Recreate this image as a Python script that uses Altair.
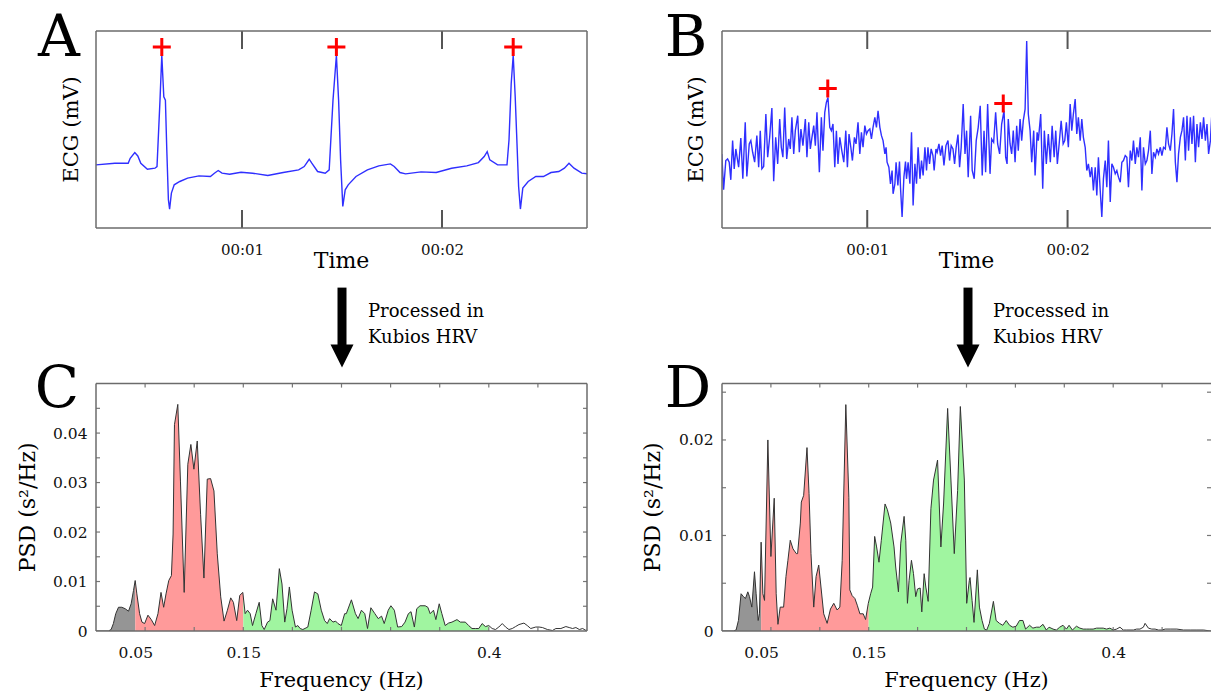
import altair as alt
import numpy as np
import pandas as pd

# ---------------- data ----------------
# Panel A: clean ECG, (time ms, amplitude a.u.)
ecg_a = [(268,190),(364,195),(431,195),(441,210),(464,227),(479,217),(494,195),(527,177),(565,180),(575,185),
         (590,385),(599,520),(609,395),(617,385),(624,235),(632,85),(638,57),(647,105),(661,130),(689,140),
         (728,150),(785,157),(842,155),(862,165),(881,173),(900,165),(938,162),(995,168),(1053,165),(1129,158),
         (1206,167),(1283,175),(1311,185),(1336,207),(1349,195),(1378,170),(1416,165),(1436,175),(1455,385),(1472,520),
         (1483,385),(1493,205),(1504,65),(1516,115),(1531,130),(1570,155),(1627,175),(1684,187),(1742,193),(1761,185),
         (1790,167),(1818,163),(1895,169),(1971,167),(2048,180),(2124,187),(2182,197),(2211,215),(2226,230),(2239,205),
         (2278,190),(2325,190),(2335,265),(2346,435),(2356,520),(2366,395),(2373,285),(2383,125),(2392,57),(2404,120),
         (2431,140),(2469,155),(2507,155),(2545,167),(2584,170),(2612,180),(2635,195),(2660,180),(2699,165),(2727,163)]
ecg_a_peaks = [(599,545),(1472,545),(2356,545)]

# Panel B: noisy ECG, (time ms, amplitude a.u.)
ecg_b = [(274,223),(283,115),(294,203),(303,208),(311,198),(319,145),(328,263),(336,178),(344,238),(353,203),
         (358,183),(369,271),(379,148),(391,318),(399,155),(411,253),(419,263),(428,228),(438,198),(449,278),
         (458,183),(466,293),(474,178),(483,185),(494,343),(503,213),(513,273),(524,361),(533,141),(543,273),
         (553,193),(563,328),(571,243),(579,213),(588,363),(598,208),(608,268),(616,238),(624,333),(633,223),
         (641,293),(653,338),(661,228),(669,298),(679,248),(691,328),(699,213),(708,318),(716,238),(724,273),
         (733,308),(741,248),(749,348),(761,168),(771,333),(779,233),(788,348),(796,378),(804,393),(813,303),
         (821,293),(829,313),(838,183),(846,293),(854,193),(863,273),(873,233),(883,198),(893,293),(901,183),
         (909,283),(918,243),(926,203),(936,273),(944,253),(954,318),(963,223),(971,288),(979,243),(988,308),
         (996,283),(1004,293),(1013,298),(1021,268),(1029,303),(1038,333),(1046,303),(1054,353),(1063,303),(1071,278),
         (1079,263),(1088,223),(1094,243),(1099,198),(1108,183),(1116,133),(1124,173),(1129,103),(1138,133),(1144,198),
         (1153,128),(1161,200),(1166,123),(1174,33),(1183,153),(1191,200),(1196,148),(1204,198),(1213,133),(1221,288),
         (1229,68),(1238,193),(1246,133),(1254,243),(1263,148),(1271,203),(1279,158),(1288,243),(1296,173),(1303,243),
         (1311,193),(1319,238),(1328,218),(1334,173),(1343,238),(1349,228),(1358,253),(1366,218),(1374,248),(1383,188),
         (1393,248),(1403,263),(1411,203),(1419,248),(1428,238),(1436,193),(1444,243),(1453,281),(1461,183),(1469,243),
         (1479,373),(1488,223),(1496,293),(1504,153),(1516,338),(1524,173),(1534,148),(1544,263),(1554,303),(1564,368),
         (1574,158),(1583,293),(1591,168),(1601,373),(1613,163),(1621,268),(1631,258),(1641,348),(1651,253),(1661,223),
         (1671,313),(1683,353),(1691,213),(1698,193),(1704,328),(1713,253),(1721,223),(1729,293),(1738,198),(1746,308),
         (1754,233),(1763,328),(1771,263),(1779,323),(1788,358),(1796,563),(1804,343),(1813,293),(1821,198),(1831,293),
         (1838,158),(1848,288),(1854,263),(1866,343),(1876,118),(1884,293),(1894,193),(1904,283),(1914,198),(1923,308),
         (1933,213),(1941,293),(1949,193),(1958,253),(1968,323),(1978,253),(1986,263),(1994,318),(2004,243),(2013,373),
         (2021,293),(2029,343),(2038,388),(2046,283),(2054,333),(2063,263),(2071,328),(2079,273),(2088,243),(2096,173),
         (2104,193),(2113,153),(2121,183),(2129,113),(2138,183),(2146,98),(2154,213),(2163,113),(2171,33),(2179,148),
         (2188,203),(2196,123),(2204,263),(2213,78),(2221,193),(2229,183),(2238,163),(2246,173),(2254,153),(2263,138),
         (2271,198),(2279,203),(2288,218),(2296,213),(2304,123),(2313,233),(2321,203),(2329,263),(2338,193),(2346,243),
         (2354,213),(2363,273),(2371,113),(2379,243),(2388,193),(2396,203),(2404,233),(2413,293),(2421,163),(2429,228),
         (2438,213),(2446,238),(2454,223),(2463,243),(2471,218),(2479,243),(2488,238),(2496,303),(2504,253),(2513,233),
         (2521,283),(2529,358),(2538,198),(2546,138),(2554,223),(2563,273),(2571,293),(2579,333),(2588,203),(2596,338),
         (2604,233),(2613,333),(2621,253),(2629,338),(2638,198),(2646,313),(2654,243),(2663,318),(2671,268),(2679,333),
         (2688,263),(2696,313),(2704,223),(2713,263),(2721,353),(2726,243)]
ecg_b_peaks = [(803,420),(1679,375)]

# Panel C: PSD (Hz, s^2/Hz)
psd_c = [(0.0,0.0),(0.0126,0.0),(0.0154,0.0003),(0.0177,0.0015),(0.0201,0.0035),(0.0229,0.0048),(0.0263,0.0048),
         (0.0297,0.0045),(0.0331,0.0040),(0.0358,0.0055),(0.0382,0.0082),(0.0399,0.0102),(0.0416,0.0075),(0.0444,0.0035),
         (0.0468,0.0018),(0.0495,0.0015),(0.0529,0.0032),(0.0563,0.0023),(0.0597,0.0011),(0.0631,0.0035),(0.0662,0.0078),
         (0.0689,0.0048),(0.0713,0.0075),(0.0741,0.0102),(0.0768,0.0112),(0.0785,0.0196),(0.0799,0.0417),(0.0833,0.0458),
         (0.0860,0.0303),(0.0898,0.0078),(0.0935,0.0337),(0.0966,0.0377),(0.0997,0.0327),(0.1031,0.0384),(0.1065,0.0236),
         (0.1099,0.0107),(0.1133,0.0307),(0.1167,0.0308),(0.1201,0.0283),(0.1235,0.0156),(0.1270,0.0069),(0.1304,0.0020),
         (0.1338,0.0042),(0.1372,0.0067),(0.1399,0.0058),(0.1433,0.0021),(0.1464,0.0072),(0.1495,0.0078),(0.1519,0.0035),
         (0.1543,0.0042),(0.1570,0.0035),(0.1594,0.0011),(0.1628,0.0035),(0.1662,0.0058),(0.1689,0.0011),(0.1713,0.0003),
         (0.1747,0.0018),(0.1771,0.0021),(0.1799,0.0065),(0.1833,0.0042),(0.1867,0.0126),(0.1894,0.0095),(0.1922,0.0018),
         (0.1945,0.0045),(0.1969,0.0089),(0.1997,0.0042),(0.2031,0.0008),(0.2055,0.0011),(0.2079,0.0005),(0.2106,0.0003),
         (0.2157,0.0008),(0.2191,0.0042),(0.2225,0.0079),(0.2259,0.0075),(0.2294,0.0042),(0.2328,0.0021),(0.2355,0.0015),
         (0.2379,0.0025),(0.2413,0.0018),(0.2440,0.0020),(0.2464,0.0015),(0.2498,0.0011),(0.2532,0.0035),(0.2549,0.0035),
         (0.2601,0.0063),(0.2642,0.0035),(0.2669,0.0025),(0.2703,0.0042),(0.2737,0.0035),(0.2765,0.0005),(0.2799,0.0047),
         (0.2840,0.0035),(0.2874,0.0025),(0.2908,0.0030),(0.2935,0.0015),(0.2976,0.0042),(0.3003,0.0051),(0.3038,0.0042),
         (0.3072,0.0008),(0.3113,0.0009),(0.3147,0.0018),(0.3181,0.0035),(0.3208,0.0039),(0.3242,0.0008),(0.3266,0.0045),
         (0.3300,0.0051),(0.3352,0.0051),(0.3379,0.0048),(0.3403,0.0035),(0.3437,0.0042),(0.3461,0.0023),(0.3495,0.0055),
         (0.3522,0.0035),(0.3556,0.0011),(0.3590,0.0016),(0.3625,0.0018),(0.3676,0.0023),(0.3710,0.0018),(0.3761,0.0018),
         (0.3795,0.0011),(0.3829,0.0005),(0.3863,0.0005),(0.3898,0.0005),(0.3932,0.0015),(0.3966,0.0009),(0.4000,0.0011),
         (0.4034,0.0005),(0.4068,0.0003),(0.4102,0.0008),(0.4137,0.0015),(0.4171,0.0008),(0.4205,0.0003),(0.4239,0.0005),
         (0.4273,0.0009),(0.4307,0.0013),(0.4358,0.0016),(0.4392,0.0011),(0.4427,0.0005),(0.4478,0.0008),(0.4512,0.0008),
         (0.4546,0.0007),(0.4597,0.0003),(0.4648,0.0001),(0.4683,0.0005),(0.4734,0.0005),(0.4785,0.0009),(0.4819,0.0007),
         (0.4853,0.0005),(0.4887,0.0007),(0.4922,0.0003),(0.4956,0.0005),(0.4990,0.0001),(0.5000,0.0003)]

# Panel D: PSD (Hz, s^2/Hz)
psd_d = [(0.0,0.0),(0.0116,0.0),(0.0144,0.0001),(0.0168,0.0011),(0.0195,0.0039),(0.0219,0.0036),(0.0240,0.0034),
         (0.0264,0.0041),(0.0281,0.0036),(0.0305,0.0025),(0.0332,0.0062),(0.0349,0.0039),(0.0370,0.0011),(0.0383,0.0018),
         (0.0400,0.0093),(0.0418,0.0039),(0.0435,0.0032),(0.0469,0.0200),(0.0500,0.0078),(0.0534,0.0139),(0.0554,0.0039),
         (0.0572,0.0007),(0.0595,0.0025),(0.0630,0.0025),(0.0654,0.0057),(0.0674,0.0074),(0.0698,0.0095),(0.0726,0.0086),
         (0.0760,0.0081),(0.0773,0.0081),(0.0801,0.0113),(0.0811,0.0135),(0.0835,0.0142),(0.0869,0.0192),(0.0890,0.0144),
         (0.0910,0.0081),(0.0938,0.0025),(0.0962,0.0057),(0.0989,0.0069),(0.1013,0.0045),(0.1040,0.0018),(0.1075,0.0008),
         (0.1109,0.0023),(0.1143,0.0029),(0.1177,0.0022),(0.1205,0.0025),(0.1229,0.0074),(0.1266,0.0237),(0.1297,0.0140),
         (0.1307,0.0043),(0.1331,0.0037),(0.1359,0.0034),(0.1383,0.0027),(0.1410,0.0018),(0.1444,0.0018),(0.1468,0.0012),
         (0.1496,0.0029),(0.1520,0.0039),(0.1540,0.0046),(0.1561,0.0099),(0.1581,0.0088),(0.1605,0.0072),(0.1629,0.0095),
         (0.1667,0.0133),(0.1691,0.0127),(0.1725,0.0113),(0.1759,0.0088),(0.1776,0.0067),(0.1804,0.0041),(0.1828,0.0092),
         (0.1862,0.0120),(0.1879,0.0095),(0.1896,0.0029),(0.1913,0.0053),(0.1937,0.0074),(0.1958,0.0060),(0.1981,0.0036),
         (0.1999,0.0044),(0.2026,0.0045),(0.2043,0.0020),(0.2067,0.0060),(0.2084,0.0046),(0.2108,0.0031),(0.2136,0.0128),
         (0.2163,0.0158),(0.2204,0.0179),(0.2238,0.0088),(0.2266,0.0134),(0.2307,0.0233),(0.2341,0.0158),(0.2375,0.0081),
         (0.2409,0.0147),(0.2437,0.0235),(0.2478,0.0158),(0.2502,0.0029),(0.2529,0.0053),(0.2536,0.0056),(0.2557,0.0032),
         (0.2577,0.0009),(0.2611,0.0064),(0.2632,0.0025),(0.2659,0.0011),(0.2683,0.0002),(0.2707,0.0001),(0.2734,0.0008),
         (0.2775,0.0031),(0.2803,0.0011),(0.2837,0.0008),(0.2871,0.0006),(0.2906,0.0011),(0.2940,0.0006),(0.2974,0.0004),
         (0.3008,0.0005),(0.3042,0.0011),(0.3077,0.0011),(0.3104,0.0002),(0.3145,0.0006),(0.3179,0.0003),(0.3214,0.0004),
         (0.3248,0.0004),(0.3282,0.0007),(0.3316,0.0001),(0.3344,0.0004),(0.3385,0.0002),(0.3419,0.0001),(0.3453,0.0004),
         (0.3487,0.0006),(0.3522,0.0002),(0.3549,0.0006),(0.3583,0.0001),(0.3624,0.0005),(0.3659,0.0003),(0.3693,0.0002),
         (0.3727,0.0002),(0.3761,0.0002),(0.3795,0.0002),(0.3830,0.0003),(0.3864,0.0003),(0.3898,0.0003),(0.3932,0.0002),
         (0.3966,0.0003),(0.4001,0.0001),(0.4035,0.0002),(0.4069,0.0004),(0.4103,0.0001),(0.4137,0.0001),(0.4172,0.0001),
         (0.4206,0.0001),(0.4240,0.0002),(0.4274,0.0002),(0.4309,0.0004),(0.4326,0.0008),(0.4360,0.0003),(0.4394,0.0002),
         (0.4428,0.0002),(0.4463,0.0001),(0.4497,0.0001),(0.4531,0.0002),(0.4582,0.0002),(0.4651,0.0002),(0.4719,0.0001),
         (0.4788,0.0001),(0.4856,0.0001),(0.4925,0.0001),(0.4993,0.0000),(0.5000,0.0000)]

band_names = ["VLF", "LF", "HF"]
band_edges = [0.0, 0.04, 0.15, 0.4]
band_colors = ["#959595", "#ff9a9a", "#a0f5a0"]

time_ticks = [1, 2]
time_labels = ["00:01", "00:02"]
freq_ticks = [0.04, 0.15, 0.4]
freq_labels = ["0.05", "0.15", "0.4"]
psd_c_ticks = [0, 0.01, 0.02, 0.03, 0.04]
psd_c_labels = ["0", "0.01", "0.02", "0.03", "0.04"]
psd_d_ticks = [0, 0.01, 0.02]
psd_d_labels = ["0", "0.01", "0.02"]
freq_minor = [0.05, 0.1, 0.15, 0.2, 0.25, 0.3, 0.35, 0.4, 0.45]
psd_c_minor = [0.005, 0.01, 0.015, 0.02, 0.025, 0.03, 0.035, 0.04, 0.045]
psd_d_minor = [0.005, 0.01, 0.015, 0.02, 0.025]

FONT = "DejaVu Serif"
WA, WB, HT, HB = 491, 489, 197, 247.4
FRAME = "#6b6b6b"


def label_expr(vals, labels):
    expr = "''"
    for v, l in reversed(list(zip(vals, labels))):
        expr = f"abs(datum.value - {v}) < 1e-9 ? '{l}' : {expr}"
    return expr


def one_row():
    return pd.DataFrame({"a": [0]})


def frame_layers(W, H, right=True):
    out = [
        alt.Chart(one_row()).mark_rule(color=FRAME, strokeWidth=1.5).encode(
            x=alt.value(0), x2=alt.value(W), y=alt.value(0), y2=alt.value(0)),
        alt.Chart(one_row()).mark_rule(color=FRAME, strokeWidth=1.5).encode(
            x=alt.value(0), x2=alt.value(W), y=alt.value(H), y2=alt.value(H)),
        alt.Chart(one_row()).mark_rule(color=FRAME, strokeWidth=1.5).encode(
            x=alt.value(0), x2=alt.value(0), y=alt.value(0), y2=alt.value(H)),
    ]
    if right:
        out.append(alt.Chart(one_row()).mark_rule(color=FRAME, strokeWidth=1.5).encode(
            x=alt.value(W), x2=alt.value(W), y=alt.value(0), y2=alt.value(H)))
    return out


def text_layer(s, x, y, size, angle=0, align="center", baseline="alphabetic"):
    return alt.Chart(pd.DataFrame({"s": [s]})).mark_text(
        font=FONT, fontSize=size, angle=angle, align=align, baseline=baseline, color="black"
    ).encode(text="s:N", x=alt.value(x), y=alt.value(y))


def ecg_panel(samples, peaks, dom, W, letter, letter_x, ytitle_x, anchor=False, right=True):
    df = pd.DataFrame(samples, columns=["t_ms", "v"])
    df["t"] = df["t_ms"] / 1000
    pk = pd.DataFrame(peaks, columns=["t_ms", "v"])
    pk["t"] = pk["t_ms"] / 1000
    tk = pd.DataFrame({"t": time_ticks})
    x = alt.X("t:Q", scale=alt.Scale(domain=dom, nice=False, zero=False),
              axis=alt.Axis(values=time_ticks, labelExpr=label_expr(time_ticks, time_labels), title=None,
                            domain=False, ticks=False, tickSize=0, grid=False, labelPadding=14,
                            labelFontSize=15, labelFont=FONT, labelColor="#111"))
    y = alt.Y("v:Q", scale=alt.Scale(domain=[0, 593], nice=False, zero=False), axis=None)
    line = alt.Chart(df).mark_line(color="#2f2fff", strokeWidth=1.4, clip=True).encode(x=x, y=y)
    plus = alt.Chart(pk).mark_point(shape="M-1,0L1,0M0,-1L0,1", size=324, filled=False, color="#ff0000",
                                     strokeWidth=3, opacity=1).encode(x=x, y=y)
    ttop = alt.Chart(tk).mark_rule(color="#555", strokeWidth=2).encode(x=x, y=alt.value(0), y2=alt.value(18))
    tbot = alt.Chart(tk).mark_rule(color="#555", strokeWidth=2).encode(x=x, y=alt.value(HT - 18), y2=alt.value(HT))
    layers = [line, ttop, tbot] + frame_layers(W, HT, right) + [plus,
              text_layer(letter, letter_x, 24.5, 58),
              text_layer("Time", W / 2, 236.5, 22),
              text_layer("ECG (mV)", ytitle_x, HT / 2, 21, angle=270, baseline="middle")]
    if anchor:
        layers.append(alt.Chart(one_row()).mark_rule(strokeOpacity=0, strokeWidth=1).encode(
            x=alt.value(-96), x2=alt.value(-95), y=alt.value(-30.5), y2=alt.value(-30.5)))
    return alt.layer(*layers).properties(width=W, height=HT)


def band_frame(samples):
    f = np.array([s[0] for s in samples])
    p = np.array([s[1] for s in samples])
    rows = []
    for name, lo, hi in zip(band_names, band_edges[:-1], band_edges[1:]):
        m = (f > lo) & (f < hi)
        fs = np.concatenate([[lo], f[m], [hi]])
        ps = np.concatenate([[np.interp(lo, f, p)], p[m], [np.interp(hi, f, p)]])
        rows += [{"f": a, "p": b, "band": name} for a, b in zip(fs, ps)]
    return pd.DataFrame(rows)


def psd_panel(samples, ymax, yticks, ylabels, yminor, W, letter, letter_x, ytitle_x, arrow_x, text_x, right=True):
    df = pd.DataFrame(samples, columns=["f", "p"])
    bands = band_frame(samples)
    x = alt.X("f:Q", scale=alt.Scale(domain=[0, 0.5], nice=False, zero=False),
              axis=alt.Axis(values=freq_ticks, labelExpr=label_expr(freq_ticks, freq_labels), title=None,
                            domain=False, ticks=False, tickSize=0, grid=False, labelPadding=14.5,
                            labelFontSize=15.5, labelFont=FONT, labelColor="#111"))
    y = alt.Y("p:Q", stack=None, scale=alt.Scale(domain=[0, ymax], nice=False, zero=False),
              axis=alt.Axis(values=yticks, labelExpr=label_expr(yticks, ylabels), title=None,
                            domain=False, ticks=False, tickSize=0, grid=False, labelPadding=9,
                            labelFontSize=15.5, labelFont=FONT, labelColor="#111"))
    area = alt.Chart(bands).mark_area(opacity=1, clip=True).encode(
        x=x, y=y, color=alt.Color("band:N", scale=alt.Scale(domain=band_names, range=band_colors), legend=None))
    line = alt.Chart(df).mark_line(color="#333", strokeWidth=1, clip=True).encode(x=x, y=y)
    fx = pd.DataFrame({"f": freq_minor})
    py = pd.DataFrame({"p": yminor})
    tc = "#777"
    t1 = alt.Chart(fx).mark_rule(color=tc, strokeWidth=1.2).encode(x=x, y=alt.value(0), y2=alt.value(4))
    t2 = alt.Chart(fx).mark_rule(color=tc, strokeWidth=1.2).encode(x=x, y=alt.value(HB - 4), y2=alt.value(HB))
    t3 = alt.Chart(py).mark_rule(color=tc, strokeWidth=1.2).encode(y=y, x=alt.value(0), x2=alt.value(4))
    t4 = alt.Chart(py).mark_rule(color=tc, strokeWidth=1.2).encode(y=y, x=alt.value(W - 4), x2=alt.value(W))
    shaft = alt.Chart(one_row()).mark_rule(color="black", strokeWidth=9).encode(
        x=alt.value(arrow_x), y=alt.value(-96), y2=alt.value(-36))
    head = alt.Chart(one_row()).mark_point(
        shape="M-1,-1L1,-1L0,1Z", size=529, filled=True, color="black", opacity=1, strokeWidth=0).encode(
        x=alt.value(arrow_x), y=alt.value(-27.5))
    layers = [area, line, t1, t2, t3, t4] + frame_layers(W, HB, right) + [shaft, head,
              text_layer("Processed in", text_x, -66.6, 18, align="left"),
              text_layer("Kubios HRV", text_x, -40.3, 18, align="left"),
              text_layer(letter, letter_x, 23.7, 58),
              text_layer("Frequency (Hz)", W / 2, 303.4, 20.8),
              text_layer("PSD (s\u00b2/Hz)", ytitle_x, HB / 2, 22, angle=270, baseline="middle")]
    return alt.layer(*layers).properties(width=W, height=HB)


pA = ecg_panel(ecg_a, ecg_a_peaks, [0.27, 2.725], WA, "A", -37, -24, anchor=True)
pB = ecg_panel(ecg_b, ecg_b_peaks, [0.275, 2.716], WB, "B", -36, -25, right=False)
pC = psd_panel(psd_c, 0.05, psd_c_ticks, psd_c_labels, psd_c_minor, WA, "C", -39, -68.5, 246, 272)
pD = psd_panel(psd_d, 0.0259, psd_d_ticks, psd_d_labels, psd_d_minor, WB, "D", -34, -69.4, 246, 271, right=False)

chart = alt.concat(pA, pB, pC, pD, columns=2, spacing={"row": 155.6, "column": 135},
                   bounds="flush", align="each").properties(padding=0).configure(
    font=FONT).configure_view(stroke="transparent", strokeWidth=0)

chart.save("out.html", embed_options={"renderer": "svg", "actions": False})
